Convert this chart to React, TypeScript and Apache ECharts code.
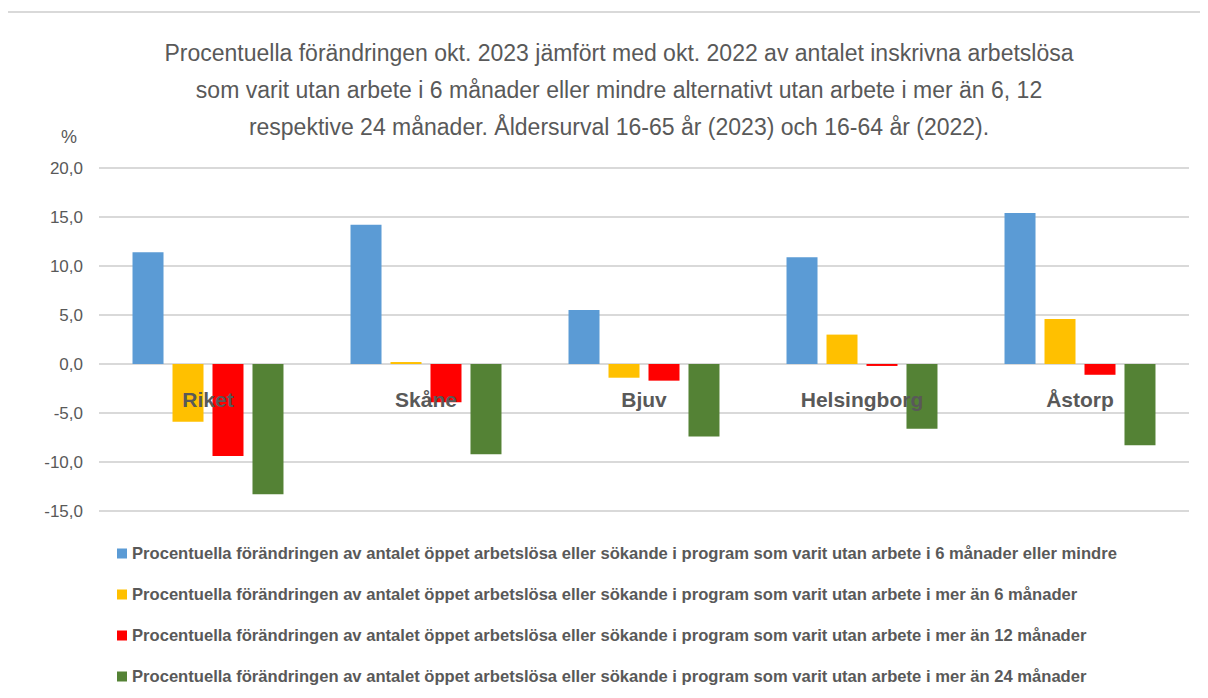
import React, { useEffect, useRef } from "react";
import * as echarts from "echarts";

const categories = ["Riket", "Skåne", "Bjuv", "Helsingborg", "Åstorp"];
const seriesNames = [
  "Procentuella förändringen av antalet öppet arbetslösa eller sökande i program som varit utan arbete i 6 månader eller mindre",
  "Procentuella förändringen av antalet öppet arbetslösa eller sökande i program som varit utan arbete i mer än 6 månader",
  "Procentuella förändringen av antalet öppet arbetslösa eller sökande i program som varit utan arbete i mer än 12 månader",
  "Procentuella förändringen av antalet öppet arbetslösa eller sökande i program som varit utan arbete i mer än 24 månader",
];
const upTo6 = [11.4, 14.2, 5.5, 10.9, 15.4];
const over6 = [-5.9, 0.2, -1.4, 3.0, 4.6];
const over12 = [-9.4, -3.9, -1.7, -0.2, -1.1];
const over24 = [-13.3, -9.2, -7.4, -6.6, -8.3];
const colors = ["#5B9BD5", "#FFC000", "#FF0000", "#548235"];
const titleText =
  "Procentuella förändringen okt. 2023 jämfört med okt. 2022 av antalet inskrivna arbetslösa\nsom varit utan arbete i 6 månader eller mindre alternativt utan arbete i mer än 6, 12\nrespektive 24 månader. Åldersurval 16-65 år (2023) och 16-64 år (2022).";

const FONT = "'Liberation Sans', sans-serif";

export default function App() {
  const ref = useRef<HTMLDivElement>(null);
  useEffect(() => {
    if (!ref.current) return;
    const chart = echarts.init(ref.current, null, { renderer: "svg" });
    const allData = [upTo6, over6, over12, over24];
    chart.setOption({
      animation: false,
      backgroundColor: "#ffffff",
      title: {
        text: titleText,
        left: 614,
        top: 29,
        textAlign: "center",
        textStyle: {
          fontFamily: FONT,
          fontSize: 23,
          fontWeight: "normal",
          color: "#595959",
          lineHeight: 37,
        },
      },
      graphic: [
        {
          type: "rect",
          shape: { x: 7, y: 12, width: 1230, height: 700 },
          style: { fill: "none", stroke: "#d9d9d9", lineWidth: 2 },
          silent: true,
        },
        {
          type: "text",
          left: 61,
          top: 128,
          style: { text: "%", fontFamily: FONT, fontSize: 18, fill: "#595959" },
        },
      ],
      legend: {
        orient: "vertical",
        left: 112,
        top: 540,
        itemWidth: 10,
        itemHeight: 10,
        itemGap: 24,
        icon: "rect",
        textStyle: {
          fontFamily: FONT,
          fontSize: 16.6,
          fontWeight: "bold",
          color: "#595959",
        },
        data: seriesNames,
      },
      grid: { left: 99, right: 19, top: 168, bottom: 187, containLabel: false },
      xAxis: {
        type: "category",
        data: categories,
        axisLine: { show: false },
        axisTick: { show: false },
        axisLabel: { show: false },
      },
      yAxis: {
        type: "value",
        min: -15,
        max: 20,
        interval: 5,
        axisLine: { show: false },
        axisTick: { show: false },
        splitLine: { lineStyle: { color: "#d9d9d9", width: 2 } },
        axisLabel: {
          margin: 16,
          fontFamily: FONT,
          fontSize: 17,
          color: "#595959",
          formatter: (v: number) => v.toFixed(1).replace(".", ","),
        },
      },
      series: [
        ...allData.map((d, i) => ({
          name: seriesNames[i],
          type: "bar",
          data: d,
          barWidth: 31,
          barGap: "29%",
          itemStyle: { color: colors[i] },
        })),
        {
          type: "scatter",
          data: categories.map((c) => [c, 0]),
          symbolSize: 0,
          silent: true,
          z: 10,
          itemStyle: { opacity: 1 },
          label: {
            show: true,
            position: "bottom",
            distance: 25,
            opacity: 1,
            formatter: (p: any) => p.data[0],
            fontFamily: FONT,
            fontSize: 21,
            fontWeight: "bold",
            color: "#595959",
          },
        },
      ],
    });
    return () => chart.dispose();
  }, []);
  return <div ref={ref} style={{ width: 1208, height: 698, margin: -8 }} />;
}
